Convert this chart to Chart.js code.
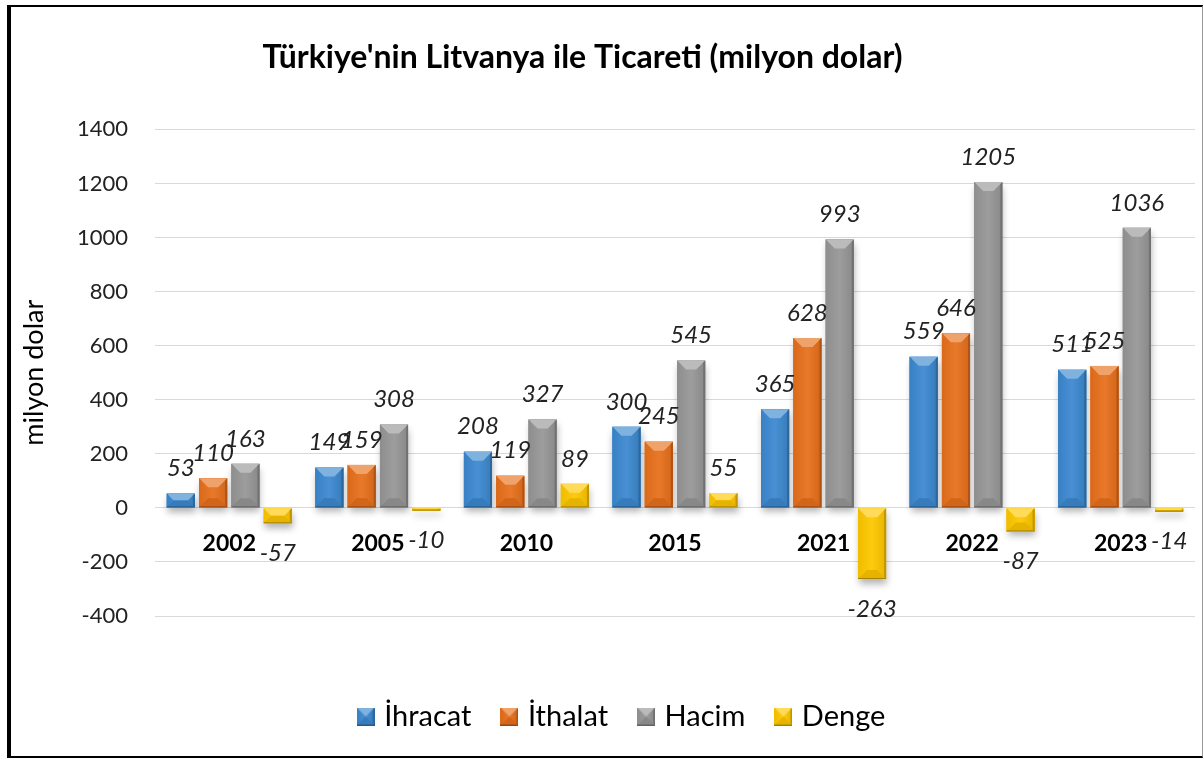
<!DOCTYPE html>
<html>
<head>
<meta charset="utf-8">
<script src="https://cdn.jsdelivr.net/npm/chart.js@4.4.0/dist/chart.umd.min.js"></script>
<style>
  html, body { margin: 0; padding: 0; background: #fff; }
  #wrap { position: relative; width: 1204px; height: 758px; }
  #frame {
    position: absolute; left: 7px; top: 5px; width: 1196px; height: 753px;
    box-sizing: border-box; pointer-events: none;
    border-left: 4px solid #000; border-top: 2px solid #000;
    border-right: 1px solid #999; border-bottom: 2px solid #000;
  }
</style>
</head>
<body>
<div id="wrap">
  <canvas id="chart" width="1204" height="758"></canvas>
  <div id="frame"></div>
</div>
<script>
const years = ['2002', '2005', '2010', '2015', '2021', '2022', '2023'];
const ihracat = [53, 149, 208, 300, 365, 559, 511];
const ithalat = [110, 159, 119, 245, 628, 646, 525];
const hacim = [163, 308, 327, 545, 993, 1205, 1036];
const denge = [-57, -10, 89, 55, -263, -87, -14];

const seriesNames = ['İhracat', 'İthalat', 'Hacim', 'Denge'];
const seriesColors = ['#3c89d0', '#e8701c', '#979797', '#ffc800'];

const FONT = 'Lato, "Open Sans", sans-serif';

function shade(hex, amt) {
  const n = parseInt(hex.slice(1), 16);
  let r = (n >> 16) & 255, g = (n >> 8) & 255, b = n & 255;
  const f = v => Math.max(0, Math.min(255, Math.round(amt >= 0 ? v + (255 - v) * amt : v * (1 + amt))));
  return 'rgb(' + f(r) + ',' + f(g) + ',' + f(b) + ')';
}

// beveled box, roughly like the excel "angle" bevel
function drawBevel(ctx, left, top, w, h, color) {
  const b = Math.min(9, w / 2, h / 2);
  const right = left + w, bottom = top + h;
  const face = ctx.createLinearGradient(left, 0, right, 0);
  face.addColorStop(0, shade(color, -0.06));
  face.addColorStop(0.5, shade(color, 0.06));
  face.addColorStop(1, shade(color, -0.1));
  ctx.fillStyle = face;
  ctx.fillRect(left, top, w, h);
  const poly = (pts, fill) => {
    ctx.beginPath();
    ctx.moveTo(pts[0][0], pts[0][1]);
    for (let i = 1; i < pts.length; i++) ctx.lineTo(pts[i][0], pts[i][1]);
    ctx.closePath();
    ctx.fillStyle = fill;
    ctx.fill();
  };
  poly([[left, top], [right, top], [right - b, top + b], [left + b, top + b]], shade(color, 0.35));
  poly([[left, top], [left + 2, top + 2], [left + 2, bottom - 2], [left, bottom]], shade(color, -0.05));
  poly([[right, top], [right, bottom], [right - 2, bottom - 2], [right - 2, top + 2]], shade(color, -0.25));
  poly([[left, bottom], [left + b, bottom - b], [right - b, bottom - b], [right, bottom]], shade(color, -0.1));
  ctx.fillStyle = shade(color, -0.35);
  ctx.fillRect(left, bottom - 1, w, 1);
}

function legendIcon(color) {
  const c = document.createElement('canvas');
  c.width = 18; c.height = 18;
  drawBevel(c.getContext('2d'), 0, 0, 18, 18, color);
  return c;
}
const icons = seriesColors.map(legendIcon);

const bevelBars = {
  id: 'bevelBars',
  afterLayout(chart) {
    // the original title sits a bit left of centre, the legend a bit right
    if (chart.titleBlock) chart.titleBlock.left -= 42;
    if (chart.legend) chart.legend.left += 40;
  },
  beforeDatasetsDraw(chart) {
    const ctx = chart.ctx;
    ctx.save();
    ctx.shadowColor = 'rgba(0,0,0,0.3)';
    ctx.shadowBlur = 7;
    ctx.shadowOffsetY = 5;
    ctx.shadowOffsetX = 1;
  },
  afterDatasetsDraw(chart) {
    const ctx = chart.ctx;
    ctx.restore();
    chart.data.datasets.forEach((ds, di) => {
      const meta = chart.getDatasetMeta(di);
      meta.data.forEach((el) => {
        const p = el.getProps(['x', 'y', 'base', 'width'], true);
        const top = Math.min(p.y, p.base), h = Math.abs(p.base - p.y);
        drawBevel(ctx, p.x - p.width / 2, top, p.width, h, seriesColors[di]);
      });
    });
    // value labels
    ctx.save();
    ctx.font = 'italic 24px ' + FONT;
    ctx.fillStyle = '#222';
    ctx.textAlign = 'center';
    ctx.textBaseline = 'middle';
    chart.data.datasets.forEach((ds, di) => {
      const meta = chart.getDatasetMeta(di);
      meta.data.forEach((el, i) => {
        const v = ds.data[i];
        const p = el.getProps(['x', 'y'], true);
        ctx.fillText(String(v), p.x, v >= 0 ? p.y - 25 : p.y + 30);
      });
    });
    // category labels just under the zero line
    const xs = chart.scales.x, ys = chart.scales.y;
    const y0 = ys.getPixelForValue(0);
    ctx.font = 'bold 23px ' + FONT;
    ctx.fillStyle = '#000';
    years.forEach((yr, i) => {
      ctx.fillText(yr, xs.getPixelForValue(i), y0 + 36);
    });
    ctx.restore();
  }
};

const datasets = [ihracat, ithalat, hacim, denge].map((arr, i) => ({
  label: seriesNames[i],
  data: arr,
  backgroundColor: seriesColors[i],
  categoryPercentage: 0.87,
  barPercentage: 0.87
}));

new Chart(document.getElementById('chart'), {
  type: 'bar',
  data: { labels: years, datasets: datasets },
  options: {
    responsive: false,
    animation: false,
    layout: { padding: { top: 20, left: 12, right: 9, bottom: 17 } },
    plugins: {
      title: {
        display: true,
        text: "Türkiye'nin Litvanya ile Ticareti (milyon dolar)",
        color: '#000',
        font: { family: FONT, size: 32, weight: 'bold' },
        padding: { top: 18, bottom: 53 }
      },
      legend: {
        position: 'bottom',
        labels: {
          color: '#000',
          font: { family: FONT, size: 29 },
          usePointStyle: true,
          pointStyleWidth: 8,
          padding: 34,
          generateLabels(chart) {
            const items = Chart.defaults.plugins.legend.labels.generateLabels(chart);
            items.forEach((it, i) => { it.pointStyle = icons[i]; });
            return items;
          }
        }
      },
      tooltip: { enabled: false }
    },
    scales: {
      x: {
        grid: { display: false },
        border: { display: false },
        ticks: { display: false },
        afterFit(scale) { scale.height = 52; }
      },
      y: {
        min: -400,
        max: 1400,
        ticks: {
          stepSize: 200, padding: 27, color: '#222',
          font: { family: FONT, size: 22 },
          callback: (v) => String(v)
        },
        grid: { color: '#d9d9d9', drawTicks: false },
        border: { display: false },
        title: {
          display: true,
          text: 'milyon dolar',
          color: '#000',
          font: { family: FONT, size: 27 },
          padding: { top: 6, bottom: 26 }
        },
        afterFit(scale) { scale.width = 143; }
      }
    }
  },
  plugins: [bevelBars]
});
</script>
</body>
</html>
